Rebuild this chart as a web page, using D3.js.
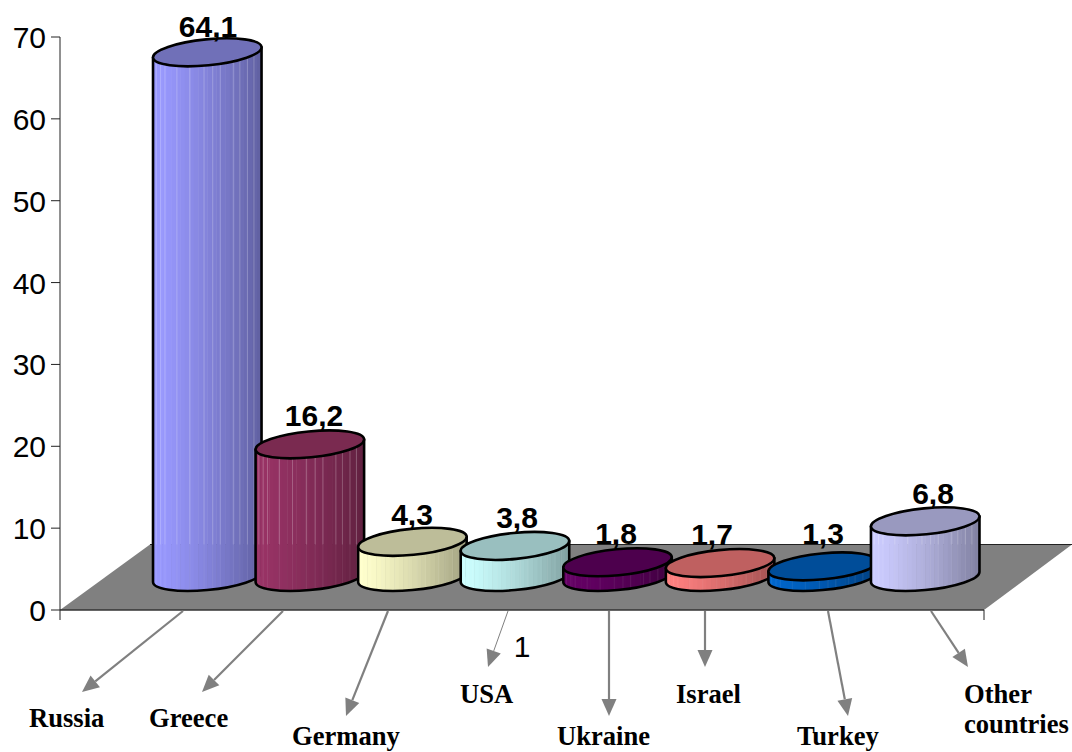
<!DOCTYPE html>
<html>
<head>
<meta charset="utf-8">
<style>
  html, body { margin: 0; padding: 0; background: #fff; overflow: hidden; }
  svg { display: block; }
  .val { font: bold 30px "Liberation Sans", Arial, sans-serif; fill: #000; text-anchor: middle; }
  .tick { font: 30px "Liberation Sans", Arial, sans-serif; fill: #000; }
  .cat { font: bold 26.6px "Liberation Serif", "Times New Roman", serif; fill: #000; }
</style>
<script src="https://cdn.jsdelivr.net/npm/d3@7/dist/d3.min.js"></script>
</head>
<body>
<svg id="chart" width="1072" height="752"></svg>
<script>
// Share of arrivals by country of origin
const categories = ["Russia", "Greece", "Germany", "USA", "Ukraine", "Israel", "Turkey", "Other countries"];
const values = [64.1, 16.2, 4.3, 3.8, 1.8, 1.7, 1.3, 6.8];
const valueLabels = ["64,1", "16,2", "4,3", "3,8", "1,8", "1,7", "1,3", "6,8"];
const yTicks = [0, 10, 20, 30, 40, 50, 60, 70];
const sideColors = ["#9999ff", "#993366", "#ffffcc", "#ccffff", "#660066", "#ff8080", "#0066cc", "#ccccff"];
const capColors = ["#7070b8", "#7a2a50", "#bdbd99", "#99bfbf", "#4d004d", "#bf6060", "#004d99", "#9999bf"];

// Label placement around the cylinders and the category callouts
const labelCenters = [208, 314, 412, 517, 616, 712, 823, 933];
const labelLifts = [15, 18, 17, 18, 18, 18, 22, 17];
const calloutArrows = [
  [183, 82, 692, 2.2], [283, 202, 692, 2.2], [388, 346, 716, 2.2], [508, 488, 667, 1],
  [609, 609, 716, 2.2], [705, 705, 667, 2.2], [828, 848, 716, 2.2], [931, 968, 667, 2.2]
];
const calloutText = [
  [29, 727, "Russia"], [149, 727, "Greece"], [292, 745, "Germany"], [460, 703, "USA"],
  [557, 745, "Ukraine"], [676, 703, "Israel"], [797, 745, "Turkey"],
  [964, 703, "Other"], [964, 733, "countries"]
];
// Where the pale facet lines fall across a cylinder's width
const facetLines = [0.03, 0.07, 0.11, 0.22, 0.34, 0.47, 0.55, 0.62, 0.74, 0.8, 0.87, 0.93];

const svg = d3.select("#chart");
const y = d3.scaleLinear().domain([0, 70]).range([610, 37]);
const x = d3.scaleBand().domain(categories).range([156, 976.5]).padding(0);

const axisX = 60, floorBackY = 544.5, floorDepth = 33;
const rx = 54.5, ry = 13, tilt = -5.6 * Math.PI / 180;

// Vertical tangent of the tilted cap ellipse, used as the silhouette edge
const t0 = Math.atan(-(ry / rx) * Math.tan(tilt));
const tanX = rx * Math.cos(t0) * Math.cos(tilt) - ry * Math.sin(t0) * Math.sin(tilt);
const tanY = rx * Math.cos(t0) * Math.sin(tilt) + ry * Math.sin(t0) * Math.cos(tilt);
const tiltDeg = tilt * 180 / Math.PI;

// Floor of the 3-D plot
const floorBase = y(0);
svg.append("path")
  .attr("d", d3.line()([[axisX, floorBase], [150, floorBackY], [1072, floorBackY], [984, floorBase]]) + "Z")
  .attr("fill", "#808080");
svg.append("path")
  .attr("d", d3.line()([[150, floorBackY], [1072, floorBackY]]))
  .attr("stroke", "#222").attr("stroke-width", 1).attr("fill", "none");
svg.append("path")
  .attr("d", d3.line()([[axisX, floorBase], [984, floorBase]]))
  .attr("stroke", "#333").attr("stroke-width", 1.6).attr("fill", "none");

// Value axis
const axis = svg.append("g");
axis.append("line").attr("x1", axisX).attr("x2", axisX).attr("y1", y(70)).attr("y2", 620)
  .attr("stroke", "#222").attr("stroke-width", 1);
axis.append("line").attr("x1", 984).attr("x2", 984).attr("y1", floorBase).attr("y2", 620)
  .attr("stroke", "#222").attr("stroke-width", 1);
axis.selectAll("line.t").data(yTicks).join("line").attr("class", "t")
  .attr("x1", 51).attr("x2", axisX)
  .attr("y1", d => y(d)).attr("y2", d => y(d))
  .attr("stroke", "#222").attr("stroke-width", 1);
axis.selectAll("text").data(yTicks).join("text").attr("class", "tick")
  .attr("x", 46).attr("y", d => y(d) + 11).attr("text-anchor", "end")
  .text(d => d);

svg.append("text").attr("class", "tick").attr("x", 522).attr("y", 657)
  .attr("text-anchor", "middle").text("1");

// Cylinders, painted left to right so each one overlaps its neighbour
const defs = svg.append("defs");
const shadeSteps = d3.range(24);

categories.forEach((name, i) => {
  const cx = x(name) + x.bandwidth() / 2;
  const baseY = floorBase - floorDepth;
  const topY = baseY - (floorBase - y(values[i]));
  const body = [
    `M${cx - tanX},${topY - tanY}`,
    `L${cx - tanX},${baseY - tanY}`,
    `A${rx},${ry} ${tiltDeg} 0 0 ${cx + tanX},${baseY + tanY}`,
    `L${cx + tanX},${topY + tanY}`,
    "Z"
  ].join(" ");

  defs.append("clipPath").attr("id", "clip" + i).append("path").attr("d", body);

  const g = svg.append("g");
  const strips = g.append("g").attr("clip-path", `url(#clip${i})`);
  const dark = d3.rgb(sideColors[i]).darker(1.25);
  const shade = d3.interpolateRgb(sideColors[i], dark);
  const left = cx - tanX, w = tanX * 2;

  strips.selectAll("rect").data(shadeSteps).join("rect")
    .attr("x", d => left + d * w / shadeSteps.length)
    .attr("width", w / shadeSteps.length + 0.5)
    .attr("y", topY - 30).attr("height", baseY - topY + 60)
    .attr("fill", d => shade(Math.pow(d / (shadeSteps.length - 1), 1.3)));

  // Facet lines: crisp above the floor's back edge, faint in front of it
  const facetTop = Math.min(floorBackY, baseY);
  strips.selectAll("line.hi").data(facetLines).join("line").attr("class", "hi")
    .attr("x1", d => left + d * w).attr("x2", d => left + d * w)
    .attr("y1", topY - 30).attr("y2", facetTop)
    .attr("stroke", "#fff").attr("stroke-opacity", 0.24).attr("stroke-width", 1);
  strips.selectAll("line.lo").data(facetLines).join("line").attr("class", "lo")
    .attr("x1", d => left + d * w).attr("x2", d => left + d * w)
    .attr("y1", facetTop).attr("y2", baseY + 30)
    .attr("stroke", "#fff").attr("stroke-opacity", 0.07).attr("stroke-width", 1);

  g.append("path").attr("d", body).attr("fill", "none")
    .attr("stroke", "#000").attr("stroke-width", 2.6).attr("stroke-linejoin", "round");
  g.append("ellipse")
    .attr("rx", rx).attr("ry", ry)
    .attr("transform", `translate(${cx},${topY}) rotate(${tiltDeg})`)
    .attr("fill", capColors[i]).attr("stroke", "#000").attr("stroke-width", 2.6);
});

// Value labels
svg.selectAll("text.val").data(values).join("text").attr("class", "val")
  .attr("x", (d, i) => labelCenters[i])
  .attr("y", (d, i) => y(d) - floorDepth - labelLifts[i])
  .text((d, i) => valueLabels[i]);

// Grey callout arrows from the floor edge down to each country name
const arrows = svg.append("g");
calloutArrows.forEach(([x0, x1, y1, sw]) => {
  const y0 = floorBase + 1;
  const a = Math.atan2(y1 - y0, x1 - x0);
  const len = 17, half = 7.5;
  const bx = x1 - len * Math.cos(a), by = y1 - len * Math.sin(a);
  const nx = -Math.sin(a) * half, ny = Math.cos(a) * half;
  arrows.append("line").attr("x1", x0).attr("y1", y0).attr("x2", bx).attr("y2", by)
    .attr("stroke", "#808080").attr("stroke-width", sw);
  arrows.append("path")
    .attr("d", d3.line()([[x1, y1], [bx + nx, by + ny], [bx - nx, by - ny]]) + "Z")
    .attr("fill", "#808080");
});

// Country names
svg.selectAll("text.cat").data(calloutText).join("text").attr("class", "cat")
  .attr("x", d => d[0]).attr("y", d => d[1]).text(d => d[2]);
</script>
</body>
</html>
